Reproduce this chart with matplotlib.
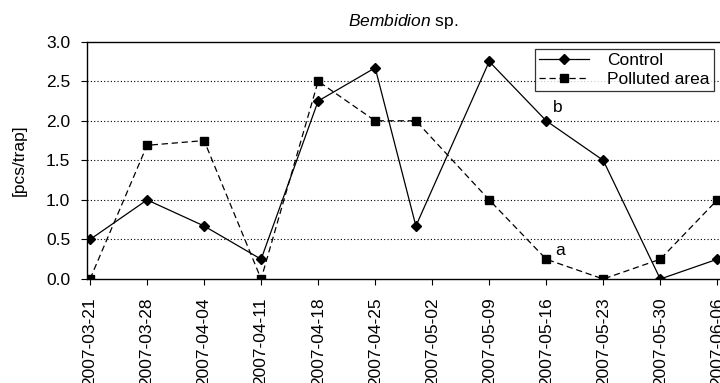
import matplotlib
matplotlib.use("Agg")
import matplotlib.pyplot as plt
import matplotlib.dates as mdates
import numpy as np
import pandas as pd

plt.rcParams['font.family'] = ['Liberation Sans', 'DejaVu Sans']
plt.rcParams['mathtext.fontset'] = 'custom'
plt.rcParams['mathtext.it'] = 'Liberation Sans:italic'
plt.rcParams['mathtext.rm'] = 'Liberation Sans'

dates = pd.to_datetime(["2007-03-21", "2007-03-28", "2007-04-04", "2007-04-11",
                        "2007-04-18", "2007-04-25", "2007-04-30", "2007-05-09",
                        "2007-05-16", "2007-05-23", "2007-05-30", "2007-06-06"])
control = [0.5, 1.0, 0.67, 0.25, 2.25, 2.67, 0.67, 2.75, 2.0, 1.5, 0.0, 0.25]
polluted = [0.0, 1.69, 1.75, 0.0, 2.5, 2.0, 2.0, 1.0, 0.25, 0.0, 0.25, 1.0]
tick_dates = pd.date_range("2007-03-21", "2007-06-06", freq="7D")

fs = 12.5

fig = plt.figure(figsize=(7.2, 3.83), dpi=100)
ax = fig.add_axes([87/720, 1 - 279/383, (720 - 87)/720, (279 - 41.7)/383])

ax.plot(dates, control, '-', color='black', lw=0.9, marker='D', ms=4.6,
        label='Control')
ax.plot(dates, polluted, '--', color='black', lw=0.9, marker='s', ms=6,
        dashes=(5, 3), label='Polluted area')

ax.set_ylim(0, 3.0)
ax.set_yticks(np.arange(0, 3.01, 0.5))
ax.yaxis.set_major_formatter(matplotlib.ticker.FormatStrFormatter('%.1f'))
for yv in np.arange(0.5, 2.51, 0.5):
    ax.axhline(yv, color='black', lw=0.8, ls=(0, (1, 2)), zorder=0)

ax.set_xlim(pd.Timestamp("2007-03-21") - pd.Timedelta(hours=9),
            pd.Timestamp("2007-06-06") + pd.Timedelta(hours=8))
ax.set_xticks(tick_dates)
ax.xaxis.set_major_formatter(mdates.DateFormatter('%Y-%m-%d'))
plt.setp(ax.get_xticklabels(), rotation=90)
ax.tick_params(axis='both', labelsize=fs, direction='out', length=4,
               width=0.8, color='black')
ax.tick_params(axis='x', pad=9.5)
ax.tick_params(axis='y', pad=8)

for s in ['top', 'left', 'bottom']:
    ax.spines[s].set_linewidth(1.0)
ax.spines['right'].set_visible(False)

ax.set_ylabel('[pcs/trap]', fontsize=fs, labelpad=14)
ax.set_title(r'$\it{Bembidion}$ sp.', fontsize=fs, pad=11)

ax.annotate('b', (dates[8], control[8]), xytext=(5, 6),
            textcoords='offset points', fontsize=fs)
ax.annotate('a', (dates[8], polluted[8]), xytext=(6.5, 3),
            textcoords='offset points', fontsize=fs)

leg = ax.legend(loc='upper right', bbox_to_anchor=(0.99, 0.97),
                fontsize=fs, frameon=True, fancybox=False, handlelength=2.9,
                borderpad=0.25, labelspacing=0.2, handletextpad=1.0,
                borderaxespad=0)
leg.get_frame().set_edgecolor('black')
leg.get_frame().set_linewidth(0.9)

fig.savefig('out.png', dpi=100)
